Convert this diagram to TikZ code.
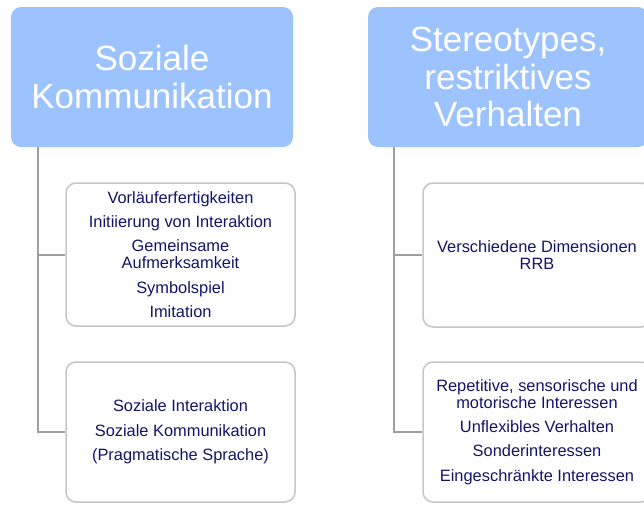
\documentclass[tikz,border=0pt]{standalone}
\usepackage{fontspec}
\setmainfont{Liberation Sans}
\usepackage{tikz}
\usetikzlibrary{arrows,calc}
\tikzset{>=latex}
\definecolor{headblue}{RGB}{157,195,255}
\definecolor{itemnavy}{RGB}{20,20,105}
\tikzstyle{header}=[rectangle,fill=headblue,text=white,rounded corners=10pt,align=center,inner sep=0pt,font=\fontsize{35}{37.5}\selectfont]
\tikzstyle{itembox}=[rectangle,draw=gray!45,fill=white,line width=1.5pt,rounded corners=10pt,align=center,inner sep=0pt,text=itemnavy,font=\fontsize{16.4}{16.8}\selectfont]
\tikzstyle{link}=[draw=gray!75,line width=2pt]

\begin{document}
\begin{tikzpicture}[x=1pt,y=-1pt]
	\useasboundingbox (0,0) rectangle (644,504);
	
	\node[header, minimum width=282pt, minimum height=140pt] (head1) at (152, 77) {Soziale\\Kommunikation};
	\node[header, minimum width=280pt, minimum height=140pt] (head2) at (508, 77) {Stereotypes,\\restriktives\\Verhalten};
	
	\coordinate (stem1) at (38, 0);
	\coordinate (stem2) at (394, 0);
	
	\node[itembox, minimum width=229pt, minimum height=143pt] (box1) at (180.5, 254.5) {Vorläuferfertigkeiten\\[7.5pt]Initiierung von Interaktion\\[7.5pt]Gemeinsame\\Aufmerksamkeit\\[7.5pt]Symbolspiel\\[7.5pt]Imitation};
	\node[itembox, minimum width=229pt, minimum height=140pt] (box2) at (180.5, 432) {Soziale Interaktion\\[7.5pt]Soziale Kommunikation\\[7.5pt](Pragmatische Sprache)};
	\node[itembox, minimum width=228pt, minimum height=144pt] (box3) at (537, 255) {Verschiedene Dimensionen\\RRB};
	\node[itembox, minimum width=228pt, minimum height=140pt] (box4) at (537, 432) {Repetitive, sensorische und\\motorische Interessen\\[7.5pt]Unflexibles Verhalten\\[7.5pt]Sonderinteressen\\[7.5pt]Eingeschränkte Interessen};
	
	\draw[link] (stem1 |- head1.south) |- (box2.west);
	\draw[link] (stem1 |- box1.west) -- (box1.west);
	\draw[link] (stem2 |- head2.south) |- (box4.west);
	\draw[link] (stem2 |- box3.west) -- (box3.west);
\end{tikzpicture}
\end{document}
